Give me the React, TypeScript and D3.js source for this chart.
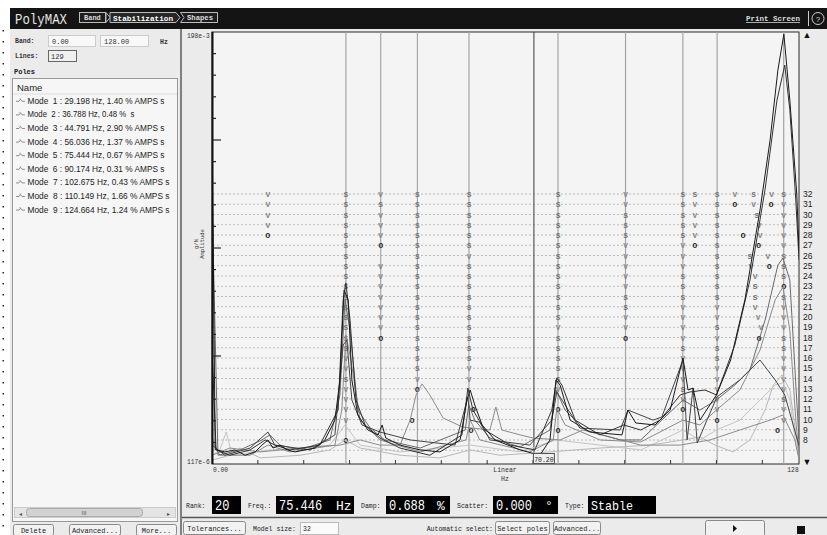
import React from 'react';
import * as d3 from 'd3';

// modes listed in the Poles table
const modeFreqs = [29.198, 36.788, 44.791, 56.036, 75.444, 90.174, 102.675, 110.149, 124.664];
const modeDamps = [1.40, 0.48, 2.90, 1.37, 0.67, 0.31, 0.43, 1.66, 1.24];
const modeAmps = [true, false, true, true, true, true, true, true, true];

const cursorFreq = 70.20;
const orderLabels = d3.range(8, 33);
const gridOrders = d3.range(7, 33);

// stabilisation columns: [Hz, symbols from order 32 downwards] ('.' = nothing)
const poleColumns: [number, string][] = [
  [12.15, 'VVVVo'],
  [29.198, 'SSSSSSSSSSSSSSSSVVSVVVV.o'],
  [36.788, 'VSVVVo.VVVVVVVo'],
  [44.791, 'SSSSSSSSSSSSSSSSSSVo'],
  [56.036, 'SSSSSSVSSSSSSSSSSVV'],
  [75.444, 'SSSSSSSSSSSSSVSSSSSV.o.o'],
  [90.174, 'VVSSSVVVVVSSVVo'],
  [102.675, 'SSSSSVVVSSSVVVVSVVVSVo'],
  [105.3, 'SVVVVo'],
  [110.149, 'SSSSSSSSSSSVVSVSSVVVVVo'],
  [124.664, 'SVVVVVSSSoSVVVSSVVVVSVV'],
];

// single poles: [Hz, order, symbol]
const loosePoles: [number, number, string][] = [
  [43.6, 10, 'o'], [57.0, 11, 'o'], [56.5, 9, 'o'],
  [114.0, 32, 'V'], [114.0, 31, 'o'],
  [118.1, 32, 'S'], [118.1, 31, 'V'], [118.8, 30, 'S'], [119.3, 29, 'V'], [119.5, 28, 'V'],
  [115.8, 28, 'o'], [119.2, 27, 'o'], [117.3, 26, 'S'], [117.5, 25, 'V'],
  [118.4, 24, 'V'], [118.4, 23, 'S'], [118.4, 22, 'S'], [118.4, 21, 'V'],
  [119.1, 20, 'V'], [119.7, 19, 'V'], [119.3, 18, 'o'],
  [122.0, 32, 'V'], [121.9, 31, 'o'], [121.2, 26, 'V'], [121.5, 25, 'o'],
  [123.3, 9, 'o'],
];

// FRF amplitudes [Hz, g/N]
const frf1 = [[0, 4.0e-2], [0.7, 1.5e-4], [2.8, 1.44e-4], [5.0, 1.49e-4], [7.2, 1.36e-4], [9.4, 1.44e-4], [10.9, 1.62e-4], [12.2, 1.77e-4], [13.3, 1.54e-4], [14.8, 1.62e-4], [16.4, 1.49e-4], [18.1, 1.44e-4], [20.3, 1.49e-4], [22.5, 1.54e-4], [24.6, 1.77e-4], [26.8, 2.49e-4], [27.9, 4.97e-4], [28.8, 2.33e-3], [29.7, 1.97e-3], [30.5, 4.97e-4], [31.8, 2.72e-4], [34.0, 2.1e-4], [36.2, 1.93e-4], [37.1, 2.29e-4], [37.9, 1.83e-4], [41.0, 1.62e-4], [45.4, 1.49e-4], [49.7, 1.44e-4], [54.1, 1.77e-4], [55.6, 3.52e-4], [56.3, 4.18e-4], [57.3, 3.23e-4], [58.9, 2.29e-4], [61.7, 1.77e-4], [67.2, 1.49e-4], [71.5, 1.36e-4], [73.7, 1.77e-4], [75.0, 4.97e-4], [75.9, 4.55e-4], [78.1, 2.49e-4], [82.4, 2.03e-4], [89.4, 1.93e-4], [90.7, 2.96e-4], [92.4, 2.37e-4], [96.6, 2.29e-4], [99.9, 2.96e-4], [102.7, 7.25e-4], [103.8, 4.18e-4], [104.9, 4.32e-4], [106.4, 2.49e-4], [110.0, 3.84e-4], [113.1, 7.0e-4], [116.2, 1.97e-3], [119.5, 9.26e-3], [121.7, 3.09e-2], [123.4, 0.103], [124.7, 0.191], [126.0, 0.0614], [127.5, 0.0124], [128, 4.65e-3]];
const frf2 = [[0, 8.3e-4], [0.9, 1.49e-4], [3.9, 1.36e-4], [8.3, 1.49e-4], [11.6, 1.77e-4], [13.7, 1.62e-4], [17.0, 1.49e-4], [23.5, 1.62e-4], [27.5, 2.96e-4], [28.6, 1.97e-3], [29.2, 2.64e-3], [30.1, 1.39e-3], [31.4, 3.52e-4], [33.4, 2.29e-4], [36.6, 1.83e-4], [41.0, 1.54e-4], [47.5, 1.36e-4], [54.5, 1.93e-4], [55.8, 4.32e-4], [56.9, 2.96e-4], [59.5, 2.1e-4], [65.0, 1.62e-4], [70.4, 1.49e-4], [74.1, 2.96e-4], [75.2, 5.14e-4], [76.3, 4.55e-4], [79.2, 2.49e-4], [84.6, 1.93e-4], [89.8, 2.29e-4], [93.5, 2.1e-4], [97.7, 2.49e-4], [102.1, 3.84e-4], [104.2, 4.04e-4], [107.5, 4.18e-4], [110.0, 3.84e-4], [114.0, 9.06e-4], [117.3, 2.77e-3], [120.6, 1.32e-2], [123.2, 6.14e-2], [124.9, 0.112], [126.0, 0.052], [127.3, 1.1e-2], [128, 3.91e-3]];
const frf3 = [[0, 1.1e-2], [1.3, 1.36e-4], [6.1, 1.49e-4], [10.9, 1.77e-4], [12.6, 1.93e-4], [14.8, 1.62e-4], [19.2, 1.49e-4], [25.7, 1.77e-4], [27.9, 3.84e-4], [29.0, 1.97e-3], [30.1, 1.17e-3], [31.8, 2.96e-4], [34.5, 2.17e-4], [37.7, 1.77e-4], [45.4, 1.54e-4], [55.2, 2.1e-4], [56.0, 3.23e-4], [57.3, 2.49e-4], [60.6, 1.83e-4], [67.2, 1.57e-4], [73.7, 2.1e-4], [75.0, 4.18e-4], [77.0, 2.96e-4], [81.3, 2.1e-4], [89.0, 1.77e-4], [93.5, 1.77e-4], [102.7, 3.52e-4], [106.4, 2.96e-4], [110.0, 3.52e-4], [114.0, 4.55e-4], [117.3, 5.9e-4], [120.6, 1.39e-3], [123.4, 3.59e-3], [124.5, 4.05e-3], [126.0, 2.77e-3], [127.5, 3.52e-4], [128, 1.77e-4]];
const frf4 = [[0, 1.77e-4], [1.7, 1.36e-4], [8.3, 1.36e-4], [12.2, 1.62e-4], [17.0, 1.44e-4], [26.8, 1.62e-4], [28.3, 2.96e-4], [29.2, 1.08e-3], [30.3, 7.0e-4], [32.3, 2.49e-4], [36.6, 1.77e-4], [45.4, 1.44e-4], [55.4, 1.77e-4], [56.3, 2.49e-4], [58.4, 1.77e-4], [69.3, 1.44e-4], [74.4, 1.77e-4], [75.2, 3.06e-4], [77.0, 2.29e-4], [84.6, 1.77e-4], [93.5, 1.71e-4], [102.7, 2.49e-4], [106.4, 2.29e-4], [110.0, 2.96e-4], [115.1, 4.18e-4], [119.5, 8.32e-4], [122.8, 1.97e-3], [124.5, 2.46e-3], [126.0, 1.17e-3], [127.3, 2.49e-4], [128, 1.36e-4]];
const frf5 = [[0, 1.36e-4], [3.9, 1.54e-4], [10.5, 1.44e-4], [19.2, 1.54e-4], [27.9, 1.62e-4], [32.3, 1.77e-4], [36.6, 1.62e-4], [41.0, 1.62e-4], [43.2, 2.49e-4], [44.5, 3.84e-4], [45.8, 4.64e-4], [47.5, 3.84e-4], [50.4, 2.58e-4], [54.7, 2.21e-4], [60.6, 2.1e-4], [61.9, 3.12e-4], [63.2, 2.1e-4], [67.2, 1.93e-4], [70.0, 1.83e-4], [75.9, 1.77e-4], [80.9, 2.1e-4], [86.8, 1.86e-4], [93.5, 1.62e-4], [102.1, 1.62e-4], [108.6, 1.77e-4], [115.1, 2.1e-4], [121.7, 2.49e-4], [124.5, 2.72e-4], [127.1, 1.77e-4], [128, 1.25e-4]];
const frf6 = [[0, 1.25e-4], [3.9, 1.36e-4], [6.1, 1.54e-4], [10.5, 1.3e-4], [19.2, 1.36e-4], [25.7, 1.49e-4], [29.0, 1.77e-4], [32.3, 1.54e-4], [41.0, 1.36e-4], [49.7, 1.3e-4], [56.3, 1.49e-4], [62.8, 1.36e-4], [73.7, 1.44e-4], [84.6, 1.54e-4], [95.7, 1.62e-4], [106.4, 1.86e-4], [109.7, 1.62e-4], [113.6, 1.44e-4], [117.3, 1.77e-4], [120.6, 2.96e-4], [122.4, 4.55e-4], [124.3, 5.41e-4], [126.0, 4.18e-4], [127.5, 1.77e-4], [128, 1.25e-4]];
const frf7 = [[0, 1.36e-4], [1.7, 1.49e-4], [3.1, 2.03e-4], [4.4, 1.36e-4], [12.6, 1.49e-4], [19.2, 1.54e-4], [25.7, 1.62e-4], [29.0, 2.29e-4], [32.3, 1.62e-4], [41.0, 1.44e-4], [56.3, 1.62e-4], [67.2, 1.44e-4], [75.0, 1.77e-4], [84.6, 1.62e-4], [93.5, 1.49e-4], [102.7, 2.1e-4], [106.4, 1.77e-4], [110.0, 2.1e-4], [115.1, 2.49e-4], [119.5, 3.52e-4], [122.8, 4.55e-4], [124.5, 4.73e-4], [126.0, 3.52e-4], [127.5, 1.49e-4]];
const frf8 = [[0, 1.62e-4], [2.8, 1.36e-4], [8.3, 1.54e-4], [12.2, 2.03e-4], [13.7, 1.62e-4], [21.4, 1.49e-4], [26.8, 1.93e-4], [28.6, 9.06e-4], [29.4, 9.88e-4], [30.5, 3.52e-4], [32.7, 2.29e-4], [36.6, 2.03e-4], [43.2, 1.77e-4], [53.0, 1.62e-4], [55.8, 3.71e-4], [56.3, 2.49e-4], [58.4, 2.4e-4], [60.6, 1.77e-4], [69.3, 1.62e-4], [74.1, 2.49e-4], [75.2, 4.04e-4], [77.0, 3.23e-4], [80.2, 2.17e-4], [89.0, 2.1e-4], [90.7, 2.96e-4], [96.2, 2.49e-4], [98.1, 2.63e-4], [102.7, 7.0e-4], [103.6, 1.77e-4], [104.9, 4.32e-4], [105.8, 1.68e-4], [110.1, 3.71e-4], [115.1, 4.97e-4], [119.5, 7.0e-4], [122.8, 4.97e-4], [124.9, 3.84e-4], [128, 1.6e-4]];

const curves = [frf6, frf7, frf5, frf4, frf3, frf8, frf2, frf1];
const curveColors = ['#b9b9b9', '#c4c4c4', '#8c8c8c', '#8a8a8a', '#6a6a6a', '#454545', '#333333', '#1a1a1a'];

const mono = '"Liberation Mono", monospace';
const sans = '"Liberation Sans", Arial, sans-serif';

function Button({ x, y, w, h, label }: { x: number; y: number; w: number; h: number; label: string }) {
  return (
    <g>
      <rect x={x} y={y} width={w} height={h} rx={2} fill="#f2f2f2" stroke="#8a8a8a" />
      <text x={x + w / 2} y={y + h / 2 + 2.5} textAnchor="middle" fontFamily={mono} fontSize={7} fill="#222">{label}</text>
    </g>
  );
}

function ValueBox({ x, w, text, unit, unitX }: { x: number; w: number; text: string; unit?: string; unitX?: number }) {
  return (
    <g>
      <rect x={x} y={496} width={w} height={18} fill="#000" />
      <text x={x + 3} y={510} fontFamily={mono} fontSize={15} fill="#fff" textLength={text.length * 7.2} lengthAdjust="spacingAndGlyphs">{text}</text>
      {unit && <text x={unitX} y={510} fontFamily={mono} fontSize={13} fill="#fff">{unit}</text>}
    </g>
  );
}

export default function App() {
  const x = d3.scaleLinear().domain([0, 128]).range([212, 799]);
  const y = d3.scaleLog().domain([117e-6, 198e-3]).range([464, 32]);
  const yo = d3.scaleLinear().domain([32, 8]).range([194, 440]);
  const yt = d3.scaleLinear().domain([0, 20]).range([464, 32]);
  const line = d3.line<number[]>().x(d => x(d[0])).y(d => y(d[1]));

  const poles: [number, number, string][] = [];
  poleColumns.forEach(([f, s]) => {
    s.split('').forEach((c, i) => { if (c !== '.') poles.push([f, 32 - i, c]); });
  });
  loosePoles.forEach(p => poles.push(p));

  return (
    <svg width={827} height={535} style={{ position: 'absolute', left: 0, top: 0, background: '#fff' }}>
      <defs>
        <clipPath id="plotclip"><rect x={212} y={32} width={587} height={432} /></clipPath>
      </defs>

      {/* dotted margin */}
      {d3.range(30, 535, 11).map(d => <rect key={d} x={2.5} y={d} width={1.5} height={1.5} fill="#222" />)}

      {/* top bar */}
      <rect x={10} y={8} width={817} height={21} fill="#141414" />
      <text x={15} y={24} fontFamily={mono} fontSize={14} fill="#e6e6e6" textLength={52} lengthAdjust="spacingAndGlyphs">PolyMAX</text>
      <rect x={79.5} y={12.5} width={26} height={10} fill="#1e1e1e" stroke="#bbb" />
      <text x={84} y={20.3} fontFamily={mono} fontSize={7} fontWeight="bold" fill="#ddd">Band</text>
      <polygon points="106,12.5 110,17.5 106,22.5" fill="none" stroke="#bbb" />
      <polygon points="110,12.5 176,12.5 180,17.5 176,22.5 110,22.5" fill="#262626" stroke="#bbb" />
      <text x={113} y={20.5} fontFamily={mono} fontSize={7.5} fontWeight="bold" fill="#fff" textLength={60} lengthAdjust="spacingAndGlyphs">Stabilization</text>
      <polygon points="180.5,12.5 217.5,12.5 217.5,22.5 180.5,22.5 184,17.5" fill="#1e1e1e" stroke="#bbb" />
      <text x={187} y={20.3} fontFamily={mono} fontSize={7} fontWeight="bold" fill="#ddd" textLength={26} lengthAdjust="spacingAndGlyphs">Shapes</text>
      <text x={746} y={21} fontFamily={mono} fontSize={7.5} fontWeight="bold" fill="#ddd" textDecoration="underline" textLength={54} lengthAdjust="spacingAndGlyphs">Print Screen</text>
      <line x1={808.5} x2={808.5} y1={11} y2={26} stroke="#ccc" />
      <circle cx={818} cy={18.5} r={6} fill="none" stroke="#ccc" />
      <text x={818} y={21.5} textAnchor="middle" fontFamily={sans} fontSize={8} fill="#ddd">?</text>

      {/* left panel */}
      <rect x={10} y={29} width={170} height={506} fill="#ebebeb" />
      <line x1={181} x2={181} y1={29} y2={535} stroke="#555" strokeWidth={1.5} />
      <text x={15} y={43} fontFamily={mono} fontSize={6.5} fontWeight="bold" fill="#333">Band:</text>
      <rect x={48.5} y={35.5} width={47} height={11} fill="#f8f8f8" stroke="#ccc" />
      <text x={52} y={43.5} fontFamily={mono} fontSize={7} fill="#333">0.00</text>
      <rect x={100.5} y={35.5} width={48} height={11} fill="#f8f8f8" stroke="#ccc" />
      <text x={104} y={43.5} fontFamily={mono} fontSize={7} fill="#333">128.00</text>
      <text x={160} y={43.5} fontFamily={mono} fontSize={6.5} fontWeight="bold" fill="#333">Hz</text>
      <text x={15} y={58} fontFamily={mono} fontSize={6.5} fontWeight="bold" fill="#333">Lines:</text>
      <rect x={48.5} y={50.5} width={28} height={11} fill="#f0f0f0" stroke="#666" />
      <text x={51} y={58.5} fontFamily={mono} fontSize={7} fill="#333">129</text>
      <text x={14} y={74} fontFamily={mono} fontSize={7} fontWeight="bold" fill="#222">Poles</text>
      <rect x={12.5} y={78.5} width={165} height={443} fill="#f6f6f6" stroke="#999" />
      <line x1={13} x2={177} y1={94} y2={94} stroke="#ddd" />
      <text x={17} y={90.5} fontFamily={sans} fontSize={9.5} fill="#222">Name</text>
      {modeFreqs.map((f, i) => {
        const yy = 103.8 + i * 13.6;
        const label = `Mode  ${i + 1} : ${f.toFixed(3)} Hz, ${modeDamps[i].toFixed(2)} % ${modeAmps[i] ? 'AMPS' : ''} s`;
        return (
          <g key={i}>
            <path d={`M16,${yy - 2.5} l3,0 l1.5,-2 l1.5,2 l3,0 M20,${yy - 5.5} l0,1`} fill="none" stroke="#777" strokeWidth={0.8} />
            <text x={27.5} y={yy} fontFamily={sans} fontSize={9.6} fill="#222" style={{ whiteSpace: 'pre' }}
              textLength={i >= 6 ? 142 : (i === 1 ? 107 : 137)} lengthAdjust="spacingAndGlyphs">{label}</text>
          </g>
        );
      })}
      {/* scrollbar */}
      <rect x={14.5} y={507.5} width={161} height={10} fill="#e4e4e4" stroke="#ccc" />
      <rect x={26.5} y={508.5} width={116} height={8} rx={3} fill="#d2d2d2" stroke="#aaa" />
      <text x={84} y={515} textAnchor="middle" fontFamily={sans} fontSize={6} fill="#555">III</text>
      <text x={19} y={515.5} fontFamily={sans} fontSize={6} fill="#555">◂</text>
      <text x={167} y={515.5} fontFamily={sans} fontSize={6} fill="#555">▸</text>
      <Button x={13.5} y={524.5} w={40} h={11} label="Delete" />
      <Button x={69.5} y={524.5} w={51} h={11} label="Advanced..." />
      <Button x={136.5} y={524.5} w={40} h={11} label="More..." />

      {/* plot panel */}
      <rect x={182} y={29} width={645} height={506} fill="#ebebeb" />
      <rect x={212} y={32} width={587} height={432} fill="#f4f4f4" stroke="#2a2a2a" />

      {/* order grid */}
      {gridOrders.map(o => (
        <line key={o} x1={213} x2={798} y1={yo(o)} y2={yo(o)} stroke="#adadad" strokeDasharray="2,2" strokeWidth={0.8} />
      ))}
      {/* mode lines + cursor */}
      {modeFreqs.map(f => (
        <line key={f} x1={x(f)} x2={x(f)} y1={32} y2={464} stroke="#a6a6a6" strokeWidth={1.2} />
      ))}
      <line x1={x(cursorFreq)} x2={x(cursorFreq)} y1={32} y2={464} stroke="#3a3a3a" strokeWidth={1} />

      {/* stabilisation symbols */}
      {poles.map(([f, o, c], i) => (
        <text key={i} x={x(f)} y={yo(o) + 3} textAnchor="middle" fontFamily={mono}
          fontSize={c === 'o' ? 8.5 : 7.8} fontWeight="bold"
          fill={c === 'o' ? '#2a2a2a' : (c === 'S' ? '#707070' : '#858585')}>{c}</text>
      ))}

      {/* FRFs */}
      <g clipPath="url(#plotclip)">
        {curves.map((c, i) => (
          <path key={i} d={line(c) || ''} fill="none" stroke={curveColors[i]} strokeWidth={1} />
        ))}
      </g>

      {/* axes */}
      <line x1={212.5} x2={212.5} y1={32} y2={464} stroke="#111" strokeWidth={2} />
      {d3.range(1, 20).map(k => (
        <line key={k} x1={212} x2={k % 5 === 0 ? 221 : 216} y1={yt(k)} y2={yt(k)} stroke="#222" strokeWidth={1.2} />
      ))}
      {x.ticks(12).filter(t => t > 0 && t < 128).map(t => (
        <line key={t} x1={x(t)} x2={x(t)} y1={464} y2={460} stroke="#333" />
      ))}
      <text x={187} y={37.5} fontFamily={mono} fontSize={6.3} fill="#333">198e-3</text>
      <text x={187} y={463.5} fontFamily={mono} fontSize={6.3} fill="#333">117e-6</text>
      <text transform="translate(198,244) rotate(-90)" textAnchor="middle" fontFamily={mono} fontSize={5.5} fill="#333">g/N</text>
      <text transform="translate(204,244) rotate(-90)" textAnchor="middle" fontFamily={mono} fontSize={5.5} fill="#333">Amplitude</text>
      <text x={213} y={471.5} fontFamily={mono} fontSize={6.3} fill="#333">0.00</text>
      <text x={505} y={472} textAnchor="middle" fontFamily={mono} fontSize={6.5} fill="#333">Linear</text>
      <text x={505} y={481} textAnchor="middle" fontFamily={mono} fontSize={6.5} fill="#333">Hz</text>
      <text x={793} y={471.5} textAnchor="middle" fontFamily={mono} fontSize={6.3} fill="#333">128</text>
      <rect x={x(cursorFreq) - 0.5} y={453.5} width={21} height={10} fill="#eee" stroke="#555" />
      <text x={x(cursorFreq) + 10} y={461.5} textAnchor="middle" fontFamily={mono} fontSize={6.5} fill="#222">{cursorFreq.toFixed(2)}</text>

      {/* model order axis */}
      {orderLabels.map(o => (
        <text key={o} x={803} y={yo(o) + 3} fontFamily={sans} fontSize={8.5} fill="#222">{o}</text>
      ))}
      <text x={807} y={38} textAnchor="middle" fontFamily={sans} fontSize={9} fill="#111">▲</text>
      <text x={807} y={465} textAnchor="middle" fontFamily={sans} fontSize={9} fill="#111">▼</text>

      {/* selected pole readout */}
      <text x={186} y={508} fontFamily={mono} fontSize={6.5} fill="#222">Rank:</text>
      <ValueBox x={212} w={29} text="20" />
      <text x={248} y={508} fontFamily={mono} fontSize={6.5} fill="#222">Freq.:</text>
      <ValueBox x={276} w={78} text="75.446" unit="Hz" unitX={336} />
      <text x={361} y={508} fontFamily={mono} fontSize={6.5} fill="#222">Damp:</text>
      <ValueBox x={386} w={64} text="0.688" unit="%" unitX={437} />
      <text x={457} y={508} fontFamily={mono} fontSize={6.5} fill="#222">Scatter:</text>
      <ValueBox x={493} w={65} text="0.000" unit="°" unitX={545} />
      <text x={565} y={508} fontFamily={mono} fontSize={6.5} fill="#222">Type:</text>
      <rect x={588} y={496} width={68} height={18} fill="#000" />
      <text x={591} y={510} fontFamily={mono} fontSize={13} fill="#fff" textLength={42} lengthAdjust="spacingAndGlyphs">Stable</text>

      {/* bottom row */}
      <line x1={182} x2={827} y1={517.5} y2={517.5} stroke="#555" strokeWidth={1.5} />
      <Button x={183.5} y={521.5} w={62} h={13} label="Tolerances..." />
      <text x={253} y={531} fontFamily={mono} fontSize={6.5} fill="#222">Model size:</text>
      <rect x={300.5} y={522.5} width={38} height={12} fill="#fafafa" stroke="#bbb" />
      <text x={303} y={531} fontFamily={mono} fontSize={6.5} fill="#222">32</text>
      <text x={493} y={531} textAnchor="end" fontFamily={mono} fontSize={6.5} fill="#222">Automatic select:</text>
      <Button x={495.5} y={521.5} w={54} h={13} label="Select poles" />
      <Button x={553.5} y={521.5} w={47} h={13} label="Advanced..." />
      <rect x={705.5} y={520.5} width={59} height={16} rx={2} fill="#f0f0f0" stroke="#888" />
      <polygon points="733,525 737,528.5 733,532" fill="#111" />
      <rect x={797} y={526} width={8} height={8} fill="#111" />
    </svg>
  );
}
